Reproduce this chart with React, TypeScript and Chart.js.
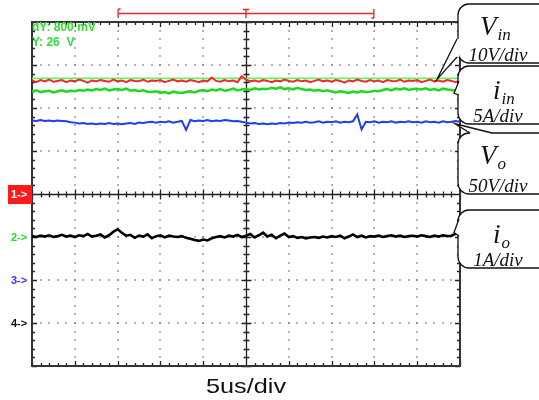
import React, { useEffect, useRef } from "react";
import { Chart, registerables } from "chart.js";
Chart.register(...registerables);

// time base: 10 div x 5 us, 0.5 us per sample
const TIME_US = Array.from({ length: 101 }, (_, i) => i * 0.5);

// trace values in screen divisions (centre = 0, +-4 div)
const VIN = [
  2.64, 2.6, 2.65, 2.62, 2.66, 2.61, 2.63, 2.65, 2.6, 2.64,
  2.62, 2.66, 2.63, 2.59, 2.64, 2.62, 2.65, 2.63, 2.61, 2.66,
  2.62, 2.64, 2.6, 2.65, 2.63, 2.62, 2.66, 2.61, 2.64, 2.63,
  2.65, 2.6, 2.63, 2.66, 2.62, 2.64, 2.61, 2.65, 2.63, 2.6,
  2.64, 2.62, 2.71, 2.63, 2.61, 2.65, 2.62, 2.64, 2.6, 2.74,
  2.66, 2.62, 2.64, 2.61, 2.65, 2.63, 2.6, 2.64, 2.62, 2.66,
  2.63, 2.61, 2.65, 2.62, 2.64, 2.6, 2.63, 2.66, 2.62, 2.64,
  2.61, 2.65, 2.63, 2.59, 2.64, 2.62, 2.66, 2.63, 2.61, 2.65,
  2.62, 2.64, 2.6, 2.65, 2.63, 2.62, 2.66, 2.61, 2.64, 2.63,
  2.65, 2.6, 2.63, 2.66, 2.62, 2.64, 2.61, 2.65, 2.63, 2.6,
  2.64,
];
const IIN = [
  2.38, 2.41, 2.37, 2.39, 2.4, 2.36, 2.39, 2.41, 2.38, 2.4,
  2.39, 2.42, 2.4, 2.43, 2.41, 2.44, 2.42, 2.45, 2.41, 2.43,
  2.44, 2.42, 2.45, 2.4, 2.42, 2.39, 2.41, 2.38, 2.37, 2.39,
  2.35, 2.37, 2.34, 2.38, 2.36, 2.35, 2.37, 2.39, 2.36, 2.4,
  2.42, 2.39, 2.43, 2.41, 2.44, 2.4, 2.42, 2.45, 2.41, 2.43,
  2.44, 2.42, 2.46, 2.43, 2.45, 2.44, 2.47, 2.45, 2.48, 2.44,
  2.46, 2.43, 2.47, 2.44, 2.42, 2.43, 2.4, 2.42, 2.39, 2.41,
  2.38, 2.36, 2.39, 2.37, 2.35, 2.38, 2.36, 2.39, 2.37, 2.38,
  2.4, 2.39, 2.42, 2.44, 2.41, 2.45, 2.43, 2.46, 2.42, 2.44,
  2.45, 2.43, 2.46, 2.42, 2.44, 2.41, 2.45, 2.43, 2.42, 2.4,
  2.41,
];
const VO = [
  1.71, 1.7, 1.72, 1.7, 1.71, 1.69, 1.71, 1.7, 1.69, 1.67,
  1.66, 1.64, 1.65, 1.63, 1.64, 1.62, 1.64, 1.63, 1.65, 1.63,
  1.64, 1.62, 1.64, 1.65, 1.63, 1.66, 1.65, 1.67, 1.68, 1.66,
  1.68, 1.67, 1.69, 1.66, 1.68, 1.7, 1.49, 1.72, 1.69, 1.71,
  1.7, 1.72, 1.69, 1.71, 1.7, 1.72, 1.71, 1.69, 1.7, 1.68,
  1.66, 1.64, 1.65, 1.63, 1.64, 1.62, 1.64, 1.63, 1.65, 1.64,
  1.66, 1.65, 1.67, 1.66, 1.68, 1.66, 1.67, 1.69, 1.66, 1.68,
  1.67, 1.69, 1.66, 1.68, 1.67, 1.69, 1.85, 1.5, 1.68, 1.67,
  1.69, 1.66, 1.68, 1.67, 1.69, 1.66, 1.68, 1.67, 1.69, 1.67,
  1.68, 1.66, 1.69, 1.67, 1.68, 1.66, 1.69, 1.67, 1.68, 1.7,
  1.68,
];
const IO = [
  -0.98, -1.0, -0.97, -0.99, -0.96, -1.0, -0.98, -0.95, -0.99, -0.97,
  -1.0, -0.96, -0.98, -0.93, -0.99, -0.97, -0.94, -1.01, -0.96, -0.88,
  -0.82, -0.9, -0.97, -0.95, -1.02, -0.97, -0.99, -0.94, -1.03, -0.98,
  -0.96, -1.01, -0.97, -0.99, -1.0, -0.98, -1.02, -1.04, -1.07, -1.09,
  -1.06, -1.08, -1.03, -1.0, -0.98, -1.01, -0.97, -0.99, -0.95, -1.0,
  -0.97, -0.93, -1.01, -0.96, -0.9, -0.99, -0.95, -1.03, -0.97, -0.92,
  -1.0, -0.98, -1.02, -1.0, -1.03, -1.01, -1.0, -1.02, -0.99, -1.01,
  -0.98, -1.0, -0.97, -1.03, -0.99, -0.94, -1.0, -0.97, -1.01, -0.98,
  -0.99, -0.97, -1.0, -0.98, -0.96, -0.99, -0.97, -1.0, -0.98, -0.97,
  -0.99, -0.96, -0.98, -1.0, -0.97, -0.99, -0.96, -0.98, -0.97, -0.92,
  -0.84,
];
const VIN_CURSOR = [2.69, 2.69];
const CURSOR_TIME = [0, 50];

const CHANNEL_LABELS = ["1->", "2->", "3->", "4->"];
const CHANNEL_LEVELS = [0, -1, -2, -3];
const CHANNEL_COLORS = ["#ffffff", "#22dd22", "#3333ff", "#111111"];
const READOUT = ["dY: 800 mV", "Y: 26  V"];
const TIMEBASE = "5us/div";
const CALLOUTS = [
  { main: "V", sub: "in", scale: "10V/div" },
  { main: "i", sub: "in", scale: "5A/div" },
  { main: "V", sub: "o", scale: "50V/div" },
  { main: "i", sub: "o", scale: "1A/div" },
];
const TRIGGER_WINDOW_US = [10, 25, 40];

const pts = (t: number[], v: number[]) => v.map((y, i) => ({ x: t[i], y }));

const scopePlugin = {
  id: "scope",
  beforeDatasetsDraw(chart: any) {
    const { ctx, chartArea, scales } = chart;
    const { left, right, top, bottom } = chartArea;
    const x = scales.x, y = scales.y;
    ctx.save();
    // dotted grid
    ctx.fillStyle = "#7a7a7a";
    for (let d = 1; d < 10; d++) {
      if (d === 5) continue;
      const px = Math.round(x.getPixelForValue(d * 5));
      for (let m = 1; m < 40; m++) {
        const py = Math.round(y.getPixelForValue(-4 + m * 0.2));
        ctx.fillRect(px - 0.75, py - 0.75, 1.5, 1.5);
      }
    }
    for (let d = -3; d <= 3; d++) {
      if (d === 0) continue;
      const py = Math.round(y.getPixelForValue(d));
      for (let m = 1; m < 50; m++) {
        const px = Math.round(x.getPixelForValue(m));
        ctx.fillRect(px - 0.75, py - 0.75, 1.5, 1.5);
      }
    }
    // centre cross
    ctx.strokeStyle = "#222";
    ctx.lineWidth = 1.3;
    const cy = Math.round(y.getPixelForValue(0)) + 0.5;
    const cx = Math.round(x.getPixelForValue(25)) + 0.5;
    ctx.beginPath();
    ctx.moveTo(left, cy); ctx.lineTo(right, cy);
    ctx.moveTo(cx, top); ctx.lineTo(cx, bottom);
    for (let m = 0; m <= 50; m++) {
      const px = Math.round(x.getPixelForValue(m)) + 0.5;
      const l = m % 5 === 0 ? 5 : 3;
      ctx.moveTo(px, cy - l); ctx.lineTo(px, cy + l);
      ctx.moveTo(px, top); ctx.lineTo(px, top + l);
      ctx.moveTo(px, bottom); ctx.lineTo(px, bottom - l);
    }
    for (let m = 0; m <= 40; m++) {
      const py = Math.round(y.getPixelForValue(-4 + m * 0.2)) + 0.5;
      const l = m % 5 === 0 ? 5 : 3;
      ctx.moveTo(cx - l, py); ctx.lineTo(cx + l, py);
      ctx.moveTo(left, py); ctx.lineTo(left + l, py);
      ctx.moveTo(right, py); ctx.lineTo(right - l, py);
    }
    ctx.stroke();
    ctx.lineWidth = 2;
    ctx.strokeStyle = "#333";
    ctx.strokeRect(left, top, right - left, bottom - top);
    ctx.restore();
  },
  afterDraw(chart: any) {
    const { ctx, chartArea, scales } = chart;
    const { left } = chartArea;
    const x = scales.x, y = scales.y;
    ctx.save();
    // trigger window bracket
    const bx0 = x.getPixelForValue(TRIGGER_WINDOW_US[0]);
    const bxT = x.getPixelForValue(TRIGGER_WINDOW_US[1]);
    const bx1 = x.getPixelForValue(TRIGGER_WINDOW_US[2]);
    ctx.strokeStyle = "#e02828";
    ctx.lineWidth = 1.3;
    ctx.beginPath();
    ctx.moveTo(bx0, 13.5); ctx.lineTo(bx1, 13.5);
    ctx.moveTo(bx0 + 0.5, 9); ctx.lineTo(bx0 + 0.5, 18);
    ctx.moveTo(bx0 + 0.5, 9); ctx.lineTo(bx0 + 3, 9);
    ctx.moveTo(bx1 - 0.5, 9); ctx.lineTo(bx1 - 0.5, 18);
    ctx.moveTo(bx1 - 0.5, 18); ctx.lineTo(bx1 - 3, 18);
    ctx.moveTo(bxT - 3, 9.5); ctx.lineTo(bxT + 3, 9.5);
    ctx.moveTo(bxT, 9.5); ctx.lineTo(bxT, 18);
    ctx.stroke();

    // readout
    ctx.fillStyle = "#33dd33";
    ctx.font = "bold 12px 'Liberation Sans', Arial, sans-serif";
    ctx.textBaseline = "alphabetic";
    ctx.textAlign = "left";
    ctx.fillText(READOUT[0], left, 31);
    ctx.fillText(READOUT[1], left, 46);

    // channel markers
    CHANNEL_LABELS.forEach((lab, i) => {
      const py = y.getPixelForValue(CHANNEL_LEVELS[i]);
      if (i === 0) {
        ctx.fillStyle = "#ff1a1a";
        ctx.fillRect(8, py - 9, left - 8, 19);
      }
      ctx.fillStyle = CHANNEL_COLORS[i];
      ctx.font = "bold 11px 'Liberation Sans', Arial, sans-serif";
      ctx.textBaseline = "middle";
      ctx.fillText(lab, 11, py + 1);
    });

    // timebase
    ctx.fillStyle = "#111";
    ctx.font = "21px 'Liberation Sans', Arial, sans-serif";
    ctx.textBaseline = "alphabetic";
    ctx.save();
    const tw = ctx.measureText(TIMEBASE).width;
    const sx = 80 / tw;
    ctx.translate(246, 393);
    ctx.scale(sx, 1);
    ctx.textAlign = "center";
    ctx.fillText(TIMEBASE, 0, 0);
    ctx.restore();

    // callouts
    const boxes = [
      { top: 4, bot: 63, tip: [437, y.getPixelForValue(VIN_CURSOR[0]) + 1], b: [[457, 39], [457, 57]] },
      { top: 66, bot: 124, tip: [454, y.getPixelForValue(IIN[100]) + 3], b: [[459, 81], [459, 95]] },
      { top: 133, bot: 194, tip: [455, y.getPixelForValue(VO[100]) + 2], b: [[470, 133], [492, 133]] },
      { top: 210, bot: 268, tip: [454, y.getPixelForValue(IO[99]) - 1], b: [[459, 219], [459, 236]] },
    ];
    const bl = 458, br = 560, r = 11;
    boxes.forEach((bx, i) => {
      ctx.beginPath();
      ctx.moveTo(bl + r, bx.top);
      ctx.lineTo(br, bx.top);
      ctx.lineTo(br, bx.bot);
      ctx.lineTo(bl + r, bx.bot);
      ctx.arcTo(bl, bx.bot, bl, bx.bot - r, r);
      ctx.lineTo(bl, bx.top + r);
      ctx.arcTo(bl, bx.top, bl + r, bx.top, r);
      ctx.closePath();
      ctx.fillStyle = "#fff";
      ctx.fill();
      ctx.strokeStyle = "#111";
      ctx.lineWidth = 1.3;
      ctx.stroke();
      // pointer
      const [tx, ty] = bx.tip as number[];
      const [p1, p2] = bx.b;
      ctx.beginPath();
      ctx.moveTo(p1[0], p1[1]);
      ctx.lineTo(tx, ty);
      ctx.lineTo(p2[0], p2[1]);
      if (i === 2) { ctx.lineTo(p2[0], p2[1] + 2); ctx.lineTo(p1[0], p1[1] + 2); }
      else { ctx.lineTo(p2[0] + 2, p2[1]); ctx.lineTo(p1[0] + 2, p1[1]); }
      ctx.closePath();
      ctx.fill();
      ctx.beginPath();
      ctx.moveTo(p1[0], p1[1]);
      ctx.lineTo(tx, ty);
      ctx.lineTo(p2[0], p2[1]);
      ctx.stroke();

      const c = CALLOUTS[i];
      ctx.fillStyle = "#111";
      ctx.textAlign = "left";
      ctx.textBaseline = "alphabetic";
      const mainBase = bx.top + (i % 2 === 0 ? 31 : 33);
      ctx.font = "italic 27px 'Liberation Serif', 'Times New Roman', serif";
      const mx = c.main === "V" ? 480 : 493;
      ctx.fillText(c.main, mx, mainBase);
      const mw = ctx.measureText(c.main).width;
      ctx.font = "italic 17px 'Liberation Serif', 'Times New Roman', serif";
      ctx.fillText(c.sub, mx + mw + 1, mainBase + 5);
      ctx.font = "italic 19px 'Liberation Serif', 'Times New Roman', serif";
      ctx.textAlign = "center";
      ctx.fillText(c.scale, 498, bx.bot - 2);
    });
    ctx.restore();
  },
};

export default function App() {
  const ref = useRef<HTMLCanvasElement | null>(null);
  useEffect(() => {
    if (!ref.current) return;
    const line = (data: any, color: string, w = 1.5) => ({
      data,
      borderColor: color,
      borderWidth: w,
      pointRadius: 0,
      tension: 0,
      fill: false,
    });
    const chart = new Chart(ref.current, {
      type: "line",
      data: {
        datasets: [
          line(pts(TIME_US, VIN), "#ee2a2a", 2),
          line(pts(CURSOR_TIME, VIN_CURSOR), "#66f066", 1.6),
          line(pts(TIME_US, IIN), "#1fd81f", 2.5),
          line(pts(TIME_US, VO), "#1f3fe8", 2),
          line(pts(TIME_US, IO), "#000000", 2.6),
        ] as any,
      },
      options: {
        animation: false,
        responsive: false,
        events: [],
        layout: { padding: { left: 32, right: 79, top: 22, bottom: 34 } },
        plugins: { legend: { display: false }, tooltip: { enabled: false } },
        scales: {
          x: { type: "linear", min: 0, max: 50, display: false },
          y: { type: "linear", min: -4, max: 4, display: false },
        },
      },
      plugins: [scopePlugin],
    });
    return () => chart.destroy();
  }, []);
  return (
    <div style={{ position: "absolute", left: 0, top: 0, width: 539, height: 400, background: "#fff" }}>
      <canvas ref={ref} width={539} height={400} />
    </div>
  );
}
